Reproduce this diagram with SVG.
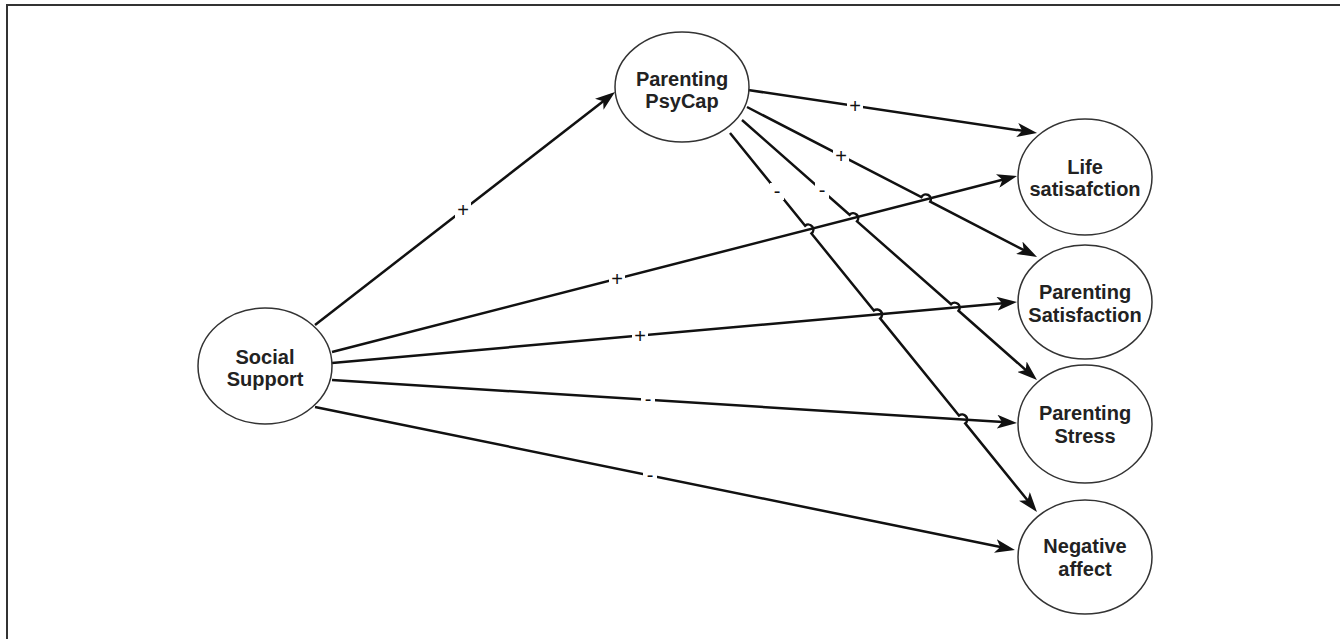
<svg xmlns="http://www.w3.org/2000/svg" width="1340" height="639" viewBox="0 0 1340 639">
<style>
.node ellipse{fill:#fff;stroke:#333;stroke-width:1.5}
.node text{font-family:"Liberation Sans",Arial,sans-serif;font-weight:bold;font-size:20px;fill:#222;text-anchor:middle}
.edge{fill:none;stroke:#111;stroke-width:2.5;marker-end:url(#arr)}
.lbg{fill:#fff}
.lbl{font-family:"Liberation Sans",Arial,sans-serif;font-size:20px;fill:#111;text-anchor:middle}
</style>
<defs>
<marker id="arr" viewBox="0 0 20 14" markerWidth="20" markerHeight="14" markerUnits="userSpaceOnUse" refX="14" refY="7" orient="auto">
<path d="M0,0 L20,7 L0,14 L5,7 Z" fill="#111"/>
</marker>
</defs>
<rect width="1340" height="639" fill="#fff"/>
<path d="M7,639 V5 H1340" fill="none" stroke="#333" stroke-width="2"/>
<g id="connectors">
<path class="edge" d="M315,325 L610.3,95.7"/>
<path class="edge" d="M748,90 L1031.1,132.1"/>
<path class="edge" d="M747,107 L921.36,197.1 A5,5 0 0 1 930.24,201.7 L1031.7,254.2"/>
<path class="edge" d="M742,120 L849.55,214.8 A5,5 0 0 1 857.05,221.4 L951.05,304.2 A5,5 0 0 1 958.55,310.8 L1032.5,376"/>
<path class="edge" d="M730,133 L805.15,225.7 A5,5 0 0 1 811.45,233.5 L873.85,310.6 A5,5 0 0 1 880.15,318.4 L958.95,415.6 A5,5 0 0 1 965.25,423.4 L1033.2,507.3"/>
<path class="edge" d="M332,352 L1011.2,177.5"/>
<path class="edge" d="M332,363 L1011,302.5"/>
<path class="edge" d="M332,380 L1011,422.6"/>
<path class="edge" d="M315,407 L1009.1,548.8"/>
<g id="labels">
<rect class="lbg" x="455" y="201" width="16" height="18"/><text class="lbl" x="463" y="217">+</text>
<rect class="lbg" x="847" y="97" width="16" height="18"/><text class="lbl" x="855" y="113">+</text>
<rect class="lbg" x="833" y="147" width="16" height="18"/><text class="lbl" x="841" y="163">+</text>
<rect class="lbg" x="815" y="182" width="14" height="17"/><text class="lbl" x="822" y="197">-</text>
<rect class="lbg" x="770" y="183" width="14" height="17"/><text class="lbl" x="777" y="198">-</text>
<rect class="lbg" x="609" y="270" width="16" height="18"/><text class="lbl" x="617" y="286">+</text>
<rect class="lbg" x="632" y="327" width="16" height="18"/><text class="lbl" x="640" y="343">+</text>
<rect class="lbg" x="641" y="391" width="14" height="17"/><text class="lbl" x="648" y="406">-</text>
<rect class="lbg" x="643" y="467" width="14" height="17"/><text class="lbl" x="650" y="482">-</text>
</g>
</g>
<g id="social-support" class="node"><ellipse cx="265" cy="366" rx="67" ry="58"/><text x="265" y="364">Social</text><text x="265" y="386">Support</text></g>
<g id="parenting-psycap" class="node"><ellipse cx="682" cy="87" rx="67" ry="55"/><text x="682" y="86">Parenting</text><text x="682" y="108">PsyCap</text></g>
<g id="life-satisfaction" class="node"><ellipse cx="1085" cy="177" rx="67" ry="58"/><text x="1085" y="174">Life</text><text x="1085" y="196">satisafction</text></g>
<g id="parenting-satisfaction" class="node"><ellipse cx="1085" cy="302" rx="67" ry="57"/><text x="1085" y="299">Parenting</text><text x="1085" y="322">Satisfaction</text></g>
<g id="parenting-stress" class="node"><ellipse cx="1085" cy="424" rx="67" ry="59"/><text x="1085" y="420">Parenting</text><text x="1085" y="443">Stress</text></g>
<g id="negative-affect" class="node"><ellipse cx="1085" cy="557" rx="67" ry="57"/><text x="1085" y="553">Negative</text><text x="1085" y="576">affect</text></g>
</svg>
